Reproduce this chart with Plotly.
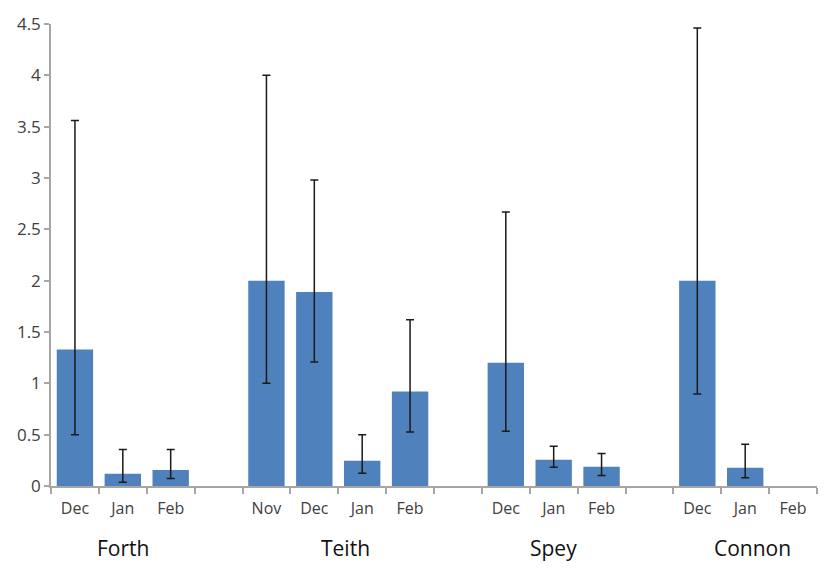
import plotly.graph_objects as go

# Data
groups = ["Forth", "Teith", "Spey", "Connon"]
months = [["Dec", "Jan", "Feb"],
          ["Nov", "Dec", "Jan", "Feb"],
          ["Dec", "Jan", "Feb"],
          ["Dec", "Jan", "Feb"]]
means = [[1.33, 0.12, 0.155],
         [2.0, 1.89, 0.245, 0.92],
         [1.2, 0.255, 0.187],
         [2.0, 0.177, None]]
upper = [[3.56, 0.355, 0.355],
         [4.0, 2.98, 0.5, 1.62],
         [2.67, 0.386, 0.316],
         [4.46, 0.406, None]]
lower = [[0.5, 0.036, 0.074],
         [1.0, 1.207, 0.125, 0.525],
         [0.534, 0.183, 0.103],
         [0.895, 0.08, None]]

# Build slot positions (one empty slot between groups)
xs, ys, ep, em, tickvals, ticktext, group_centers = [], [], [], [], [], [], []
pos = 0
for g, ms, mv, up, lo in zip(groups, months, means, upper, lower):
    start = pos
    for m, v, u, l in zip(ms, mv, up, lo):
        xs.append(pos)
        ys.append(v)
        ep.append(None if v is None else u - v)
        em.append(None if v is None else v - l)
        tickvals.append(pos)
        ticktext.append(m)
        pos += 1
    group_centers.append((start + pos - 1) / 2)
    pos += 1
last_x = xs[-1]

fig = go.Figure()
fig.add_trace(go.Bar(
    x=xs, y=ys,
    marker=dict(color="#4F81BD", line=dict(width=0)),
    width=0.76,
    error_y=dict(type="data", symmetric=False, array=ep, arrayminus=em,
                 color="#1a1a1a", thickness=1.5, width=4),
))

label_font = dict(family="Open Sans, Liberation Sans, sans-serif", size=21, color="#111111")
offsets = [0, 0.15, 0, 0.15]
for g, c, o in zip(groups, group_centers, offsets):
    fig.add_annotation(x=c + o, y=-0.135, xref="x", yref="paper", text=g,
                       showarrow=False, font=label_font, yanchor="middle")

fig.update_layout(
    width=830, height=572,
    margin=dict(l=51, r=13, t=20, b=86),
    paper_bgcolor="white", plot_bgcolor="white",
    showlegend=False,
    font=dict(family="Open Sans, Liberation Sans, sans-serif", size=14, color="#404040"),
    xaxis=dict(
        range=[-0.5, last_x + 0.5],
        tickmode="array", tickvals=tickvals, ticktext=ticktext,
        ticks="", showgrid=False, zeroline=False,
        showline=True, linecolor="#A6A6A6", linewidth=1.5,
        ticklabelstandoff=7,
        minor=dict(tickmode="linear", tick0=-0.5, dtick=1, ticks="outside",
                   ticklen=6, tickcolor="#A6A6A6", tickwidth=1.5, showgrid=False),
        tickfont=dict(size=16, color="#404040"),
    ),
    yaxis=dict(
        range=[0, 4.5], dtick=0.5, tick0=0,
        showgrid=False, zeroline=False,
        showline=True, linecolor="#A6A6A6", linewidth=1.5,
        ticks="outside", ticklen=5, tickcolor="#A6A6A6", tickwidth=1.5,
        tickfont=dict(size=17, color="#404040"),
    ),
    bargap=0.24,
)

fig.write_html("out.html")
